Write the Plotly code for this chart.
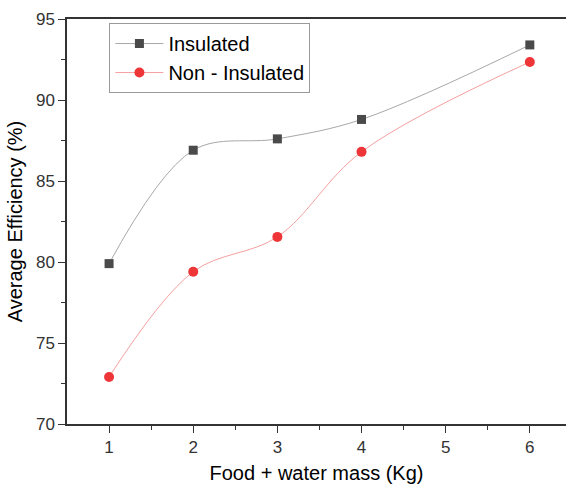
import plotly.graph_objects as go

mass = [1, 2, 3, 4, 6]
insulated = [79.9, 86.9, 87.6, 88.8, 93.4]
non_insulated = [72.9, 79.4, 81.55, 86.8, 92.35]

fig = go.Figure()
fig.add_trace(go.Scatter(
    x=mass, y=insulated, name="Insulated", mode="lines+markers",
    line=dict(color="#a8a8a8", width=1, shape="spline", smoothing=1.0),
    marker=dict(symbol="square", size=9, color="#4a4a4a"),
))
fig.add_trace(go.Scatter(
    x=mass, y=non_insulated, name="Non - Insulated", mode="lines+markers",
    line=dict(color="#f4a0a0", width=1, shape="spline", smoothing=1.0),
    marker=dict(symbol="circle", size=10, color="#ee3538"),
))

fig.update_layout(
    width=566, height=487,
    margin=dict(l=67, r=0, t=19, b=63),
    paper_bgcolor="white", plot_bgcolor="white",
    font=dict(family="Liberation Sans, Arial", size=16, color="#000"),
    showlegend=True,
    legend=dict(
        x=0.085, y=0.99, xanchor="left", yanchor="top",
        bgcolor="white", bordercolor="#999", borderwidth=1,
        font=dict(size=20, color="#000"), tracegroupgap=0,
        itemwidth=48,
    ),
    xaxis=dict(
        range=[0.5, 6.43], tickvals=[1, 2, 3, 4, 5, 6],
        showgrid=False, zeroline=False,
        showline=True, linecolor="#333", linewidth=1.5, mirror=True,
        ticks="outside", ticklen=7, tickcolor="#333",
        minor=dict(tickvals=[1.5, 2.5, 3.5, 4.5, 5.5], ticks="outside", ticklen=4, tickcolor="#333"),
        tickfont=dict(size=17, color="#333"),
        title=dict(text="Food + water mass (Kg)", font=dict(size=20, color="#000"), standoff=10),
    ),
    yaxis=dict(
        range=[70, 95], tickvals=[70, 75, 80, 85, 90, 95],
        showgrid=False, zeroline=False,
        showline=True, linecolor="#333", linewidth=1.5, mirror=False,
        ticks="outside", ticklen=7, tickcolor="#333",
        minor=dict(tickvals=[72.5, 77.5, 82.5, 87.5, 92.5], ticks="outside", ticklen=4, tickcolor="#333"),
        tickfont=dict(size=17, color="#333"),
        title=dict(text="Average Efficiency (%)", font=dict(size=20, color="#000"), standoff=8),
    ),
)

fig.write_html("out.html")
